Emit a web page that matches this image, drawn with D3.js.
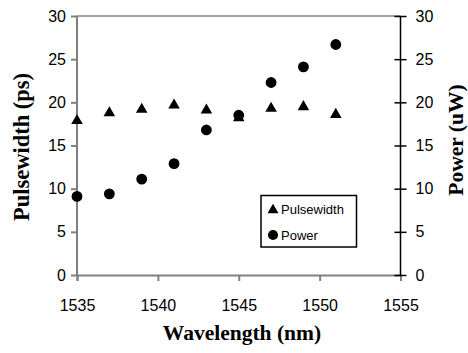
<!DOCTYPE html>
<html><head><meta charset="utf-8">
<script src="https://cdn.jsdelivr.net/npm/d3@7"></script>
<style>body{margin:0;background:#fff}svg{display:block}</style>
</head><body>
<script>
const wavelength = [1535,1537,1539,1541,1543,1545,1547,1549,1551];
const pulsewidth = [18.0,18.9,19.3,19.8,19.2,18.3,19.4,19.6,18.7];
const power = [9.1,9.4,11.1,12.9,16.8,18.5,22.3,24.1,26.7];
const xTicks = [1535,1540,1545,1550,1555];
const yTicks = [0,5,10,15,20,25,30];

const W=468,H=353;
const m={l:77,r:67.5,t:16,b:78};
const svg=d3.select("body").append("svg").attr("width",W).attr("height",H);
const x=d3.scaleLinear().domain([1535,1555]).range([m.l,W-m.r]);
const yL=d3.scaleLinear().domain([0,30]).range([H-m.b,m.t]);
const yR=d3.scaleLinear().domain([0,30]).range([H-m.b,m.t]);
const grey="#808080";
const tickFont="Liberation Sans, Arial, sans-serif";

// top border
svg.append("line").attr("x1",x(1535)).attr("x2",x(1555)).attr("y1",m.t).attr("y2",m.t).attr("stroke",grey).attr("stroke-width",1.5);

const gx=svg.append("g").attr("transform",`translate(0,${H-m.b})`)
 .call(d3.axisBottom(x).tickValues(xTicks).tickSize(6).tickPadding(19).tickFormat(d3.format("d")));
gx.selectAll("path,line").attr("stroke",grey).attr("stroke-width",2);
gx.selectAll("text").attr("font-family",tickFont).attr("font-size",16).attr("fill","#000");

const gl=svg.append("g").attr("transform",`translate(${m.l},0)`)
 .call(d3.axisLeft(yL).tickValues(yTicks).tickSize(6).tickPadding(5));
gl.selectAll("path,line").attr("stroke",grey).attr("stroke-width",2);
gl.select("path").attr("d",`M0,${H-m.b}V${m.t}`);
gl.selectAll("text").attr("font-family",tickFont).attr("font-size",16).attr("fill","#000");

const gr=svg.append("g").attr("transform",`translate(${W-m.r},0)`)
 .call(d3.axisRight(yR).tickValues(yTicks).tickSize(6).tickPadding(9));
gr.selectAll("path,line").attr("stroke","#000").attr("stroke-width",1.5);
gr.select("path").attr("d",`M0,${H-m.b}V${m.t}`);
gr.selectAll(".tick line").attr("x1",-6).attr("x2",6);
gr.selectAll("text").attr("font-family",tickFont).attr("font-size",16).attr("fill","#000");

const tri=d3.symbol().type(d3.symbolTriangle).size(58);
const cir=d3.symbol().type(d3.symbolCircle).size(92);

svg.append("g").selectAll("path.t").data(wavelength).join("path")
 .attr("d",tri).attr("fill","#000")
 .attr("transform",(d,i)=>`translate(${x(d)},${yL(pulsewidth[i])+1})`);
svg.append("g").selectAll("path.c").data(wavelength).join("path")
 .attr("d",cir).attr("fill","#000")
 .attr("transform",(d,i)=>`translate(${x(d)},${yR(power[i])})`);

// legend
const lg=svg.append("g");
lg.append("rect").attr("x",261).attr("y",195.5).attr("width",95.5).attr("height",51.5).attr("fill","#fff").attr("stroke","#000").attr("stroke-width",1.5);
lg.append("path").attr("d",d3.symbol().type(d3.symbolTriangle).size(52)).attr("transform","translate(273,210)").attr("fill","#000");
lg.append("path").attr("d",d3.symbol().type(d3.symbolCircle).size(80)).attr("transform","translate(273,235)").attr("fill","#000");
lg.append("text").attr("x",281).attr("y",214).text("Pulsewidth").attr("font-family",tickFont).attr("font-size",13);
lg.append("text").attr("x",281).attr("y",240).text("Power").attr("font-family",tickFont).attr("font-size",13);

const titleFont="Liberation Serif, Times New Roman, serif";
svg.append("text").attr("x",242).attr("y",340).attr("text-anchor","middle")
 .attr("font-family",titleFont).attr("font-weight","bold").attr("font-size",21.5).text("Wavelength (nm)");
svg.append("text").attr("transform","translate(29,147) rotate(-90)").attr("text-anchor","middle")
 .attr("font-family",titleFont).attr("font-weight","bold").attr("font-size",22.5).text("Pulsewidth (ps)");
svg.append("text").attr("transform","translate(463,140) rotate(-90)").attr("text-anchor","middle")
 .attr("font-family",titleFont).attr("font-weight","bold").attr("font-size",21.5).text("Power (uW)");
</script>
</body></html>
